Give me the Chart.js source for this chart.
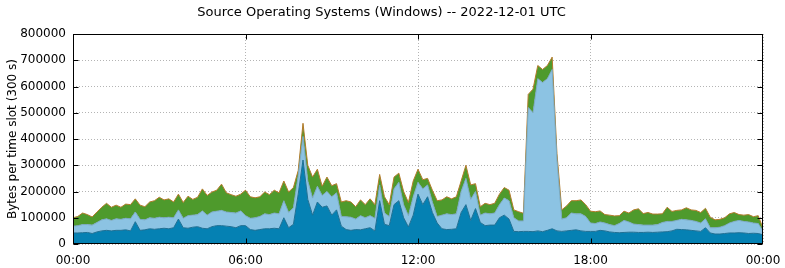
<!DOCTYPE html>
<html>
<head>
<meta charset="utf-8">
<script src="https://cdn.jsdelivr.net/npm/chart.js@4.4.0/dist/chart.umd.min.js"></script>
<style>
  html, body { margin: 0; padding: 0; background: #fff; }
  #wrap { width: 785px; height: 268px; }
</style>
</head>
<body>
<div id="wrap"><canvas id="grafico" width="785" height="268"></canvas></div>
<script>
// Valores, em milhares de bytes por slot, um ponto a cada 10 min (00:00 .. 24:00)
const passoMinutos = 10;

const serieEscura = [
  42,42,43,44,40,46,50,52,50,52,52,54,50,85,52,54,58,56,58,60,58,62,95,62,60,64,66,60,58,66,70,70,68,66,62,70,
  70,55,52,55,58,58,60,58,100,62,75,190,320,170,110,160,140,145,110,130,68,55,52,55,54,58,62,50,165,75,70,150,165,100,65,110,190,
  150,180,120,80,58,55,56,58,120,150,90,135,82,70,72,72,100,110,95,48,47,48,48,47,50,47,52,58,50,48,50,52,54,50,48,48,
  48,52,50,46,44,43,44,45,45,44,44,45,44,45,46,47,50,56,55,54,52,50,48,62,42,38,38,40,42,42,43,42,40,41,40,35
];

const serieClara = [
  26,28,31,30,32,36,42,44,40,44,42,44,46,37,42,38,42,42,44,40,44,38,35,36,48,46,46,66,52,56,55,58,54,54,56,56,
  38,43,48,50,57,54,58,57,65,58,63,70,90,70,65,60,45,55,70,65,37,49,50,40,54,42,46,48,60,43,35,60,70,50,43,70,45,
  60,45,40,25,52,60,56,57,80,100,80,65,28,48,43,46,50,65,70,52,41,40,472,453,580,568,578,607,270,47,50,66,61,65,57,32,
  30,32,30,28,26,35,46,39,31,30,28,27,28,29,36,39,36,34,39,38,38,36,32,34,20,24,26,30,38,44,47,44,44,39,38,15
];

const serieVerde = [
  32,35,44,38,31,40,48,59,50,52,46,54,54,50,54,50,60,67,76,68,70,60,60,60,74,60,66,84,75,76,80,100,73,68,64,64,
  97,82,76,75,83,76,87,80,75,78,77,20,50,60,80,65,35,55,42,35,55,61,58,47,60,50,64,52,40,62,45,45,35,50,50,60,50,
  35,25,45,60,58,65,60,65,40,50,55,30,32,37,35,37,40,40,40,30,35,29,50,90,50,50,50,47,25,35,45,47,50,53,45,45,
  45,42,32,36,37,30,35,34,54,60,44,48,42,40,33,54,38,38,36,46,40,42,40,40,40,30,30,30,35,34,22,24,28,24,30,10
];

const rotulosX = ['00:00', '06:00', '12:00', '18:00', '00:00'];
const ticksY = [0, 100000, 200000, 300000, 400000, 500000, 600000, 700000, 800000];

function pontos(serie) {
  return serie.map((v, i) => ({ x: i * passoMinutos, y: v * 1000 }));
}

// moldura preta e tracinhos para dentro, como no rrdtool
const moldura = {
  id: 'moldura',
  afterDatasetsDraw(chart) {
    const { ctx, chartArea: a, scales } = chart;
    const l = Math.round(a.left) + 0.5, r = Math.round(a.right) - 0.5;
    const t = Math.round(a.top) + 0.5, b = Math.round(a.bottom) - 0.5;
    ctx.save();
    ctx.setLineDash([]);
    ctx.strokeStyle = '#000';
    ctx.lineWidth = 1;
    ctx.beginPath();
    ticksY.forEach(v => {
      const y = Math.round(scales.y.getPixelForValue(v)) + 0.5;
      ctx.moveTo(l, y); ctx.lineTo(l + 5, y);
      ctx.moveTo(r, y); ctx.lineTo(r - 5, y);
    });
    [360, 720, 1080].forEach(v => {
      const x = Math.round(scales.x.getPixelForValue(v)) + 0.5;
      ctx.moveTo(x, t); ctx.lineTo(x, t + 5);
      ctx.moveTo(x, b); ctx.lineTo(x, b - 5);
    });
    ctx.stroke();
    ctx.strokeRect(l, t, r - l, b - t);
    ctx.restore();
  }
};

const fonte = { family: 'DejaVu Sans', size: 12 };

new Chart(document.getElementById('grafico'), {
  type: 'line',
  data: {
    datasets: [
      { data: pontos(serieEscura), backgroundColor: '#0581b3', borderColor: '#1f6f93', borderWidth: 1, fill: 'origin' },
      { data: pontos(serieClara), backgroundColor: '#8cc3e3', borderColor: '#7aa8c0', borderWidth: 1, fill: '-1' },
      { data: pontos(serieVerde), backgroundColor: '#4e9a2c', borderColor: '#b27a2a', borderWidth: 1, fill: '-1' }
    ]
  },
  options: {
    responsive: false,
    animation: false,
    events: [],
    elements: { point: { radius: 0 }, line: { tension: 0 } },
    layout: { padding: { left: 0, right: 22, top: 0, bottom: 0 } },
    plugins: {
      legend: { display: false },
      tooltip: { enabled: false },
      title: {
        display: true,
        text: 'Source Operating Systems (Windows) -- 2022-12-01 UTC',
        color: '#000',
        font: { family: 'DejaVu Sans', size: 13, weight: 'normal' },
        padding: { top: 5, bottom: 13.4 }
      }
    },
    scales: {
      x: {
        type: 'linear',
        min: 0,
        max: 1440,
        afterFit(s) { s.height = 24; },
        afterBuildTicks(s) { s.ticks = [0, 360, 720, 1080, 1440].map(v => ({ value: v })); },
        ticks: {
          color: '#000',
          font: fonte,
          padding: 4,
          maxRotation: 0,
          autoSkip: false,
          callback: (v) => rotulosX[v / 360]
        },
        // tracinho invisível só para afastar os rótulos da moldura
        grid: { color: '#b4b4b4', drawTicks: true, tickLength: 6, tickColor: 'rgba(0,0,0,0)' },
        border: { display: false, dash: [1, 2] }
      },
      y: {
        stacked: true,
        min: 0,
        max: 800000,
        afterFit(s) { s.width = 73; },
        afterBuildTicks(s) { s.ticks = ticksY.map(v => ({ value: v })); },
        ticks: {
          color: '#000',
          font: fonte,
          padding: 7,
          callback: (v) => String(v)
        },
        title: {
          display: true,
          text: 'Bytes per time slot (300 s)',
          color: '#000',
          font: fonte,
          padding: { top: 6, bottom: 0 }
        },
        grid: { color: '#b4b4b4', drawTicks: false },
        border: { display: false, dash: [1, 2] }
      }
    }
  },
  plugins: [moldura]
});
</script>
</body>
</html>
